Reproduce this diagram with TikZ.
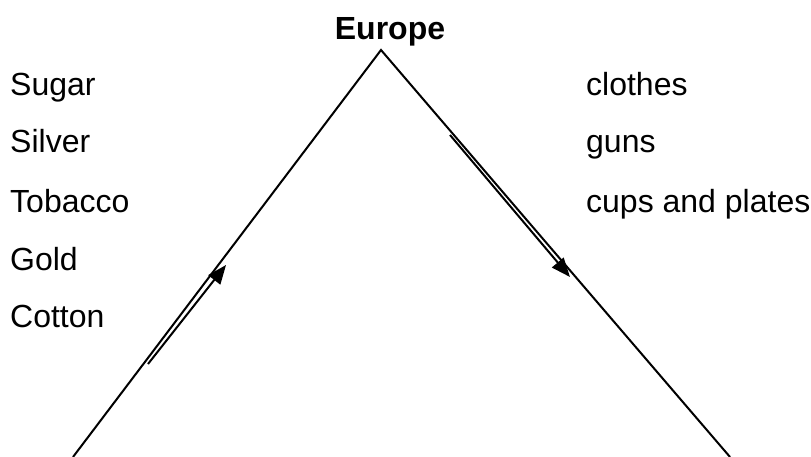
\documentclass[tikz,border=0pt]{standalone}
\usepackage{fontspec}
\setmainfont{Liberation Sans}
\usetikzlibrary{arrows.meta}
\tikzset{
  goods/.style={anchor=base west, inner sep=0pt, font=\fontsize{32}{36}\selectfont},
  place/.style={anchor=base, inner sep=0pt, font=\fontsize{32}{36}\selectfont\bfseries},
  route/.style={line width=2pt},
  trade/.style={line width=2pt, -{Triangle[length=19pt,width=15pt]}}
}
\begin{document}
\begin{tikzpicture}[x=1pt, y=-1pt]
  \useasboundingbox (0,0) rectangle (811,457);

  \coordinate (apex) at (381,50);
  \coordinate (leftfoot) at (73,457);
  \coordinate (rightfoot) at (730,457);
  \coordinate (outfrom) at (148,364);
  \coordinate (outto) at (226,265);
  \coordinate (backfrom) at (450,135);
  \coordinate (backto) at (570,277);

  \node[place] (europe) at (390,40) {Europe};

  \node[goods] (sugar) at (10,96) {Sugar};
  \node[goods] (silver) at (10,153) {Silver};
  \node[goods] (tobacco) at (10,212) {Tobacco};
  \node[goods] (gold) at (10,270) {Gold};
  \node[goods] (cotton) at (10,327) {Cotton};

  \node[goods] (clothes) at (586,96) {clothes};
  \node[goods] (guns) at (586,153) {guns};
  \node[goods] (cups) at (586,212) {cups and plates};

  \draw[route] (leftfoot) -- (apex) -- (rightfoot);
  \draw[trade] (outfrom) -- (outto);
  \draw[trade] (backfrom) -- (backto);
\end{tikzpicture}
\end{document}
